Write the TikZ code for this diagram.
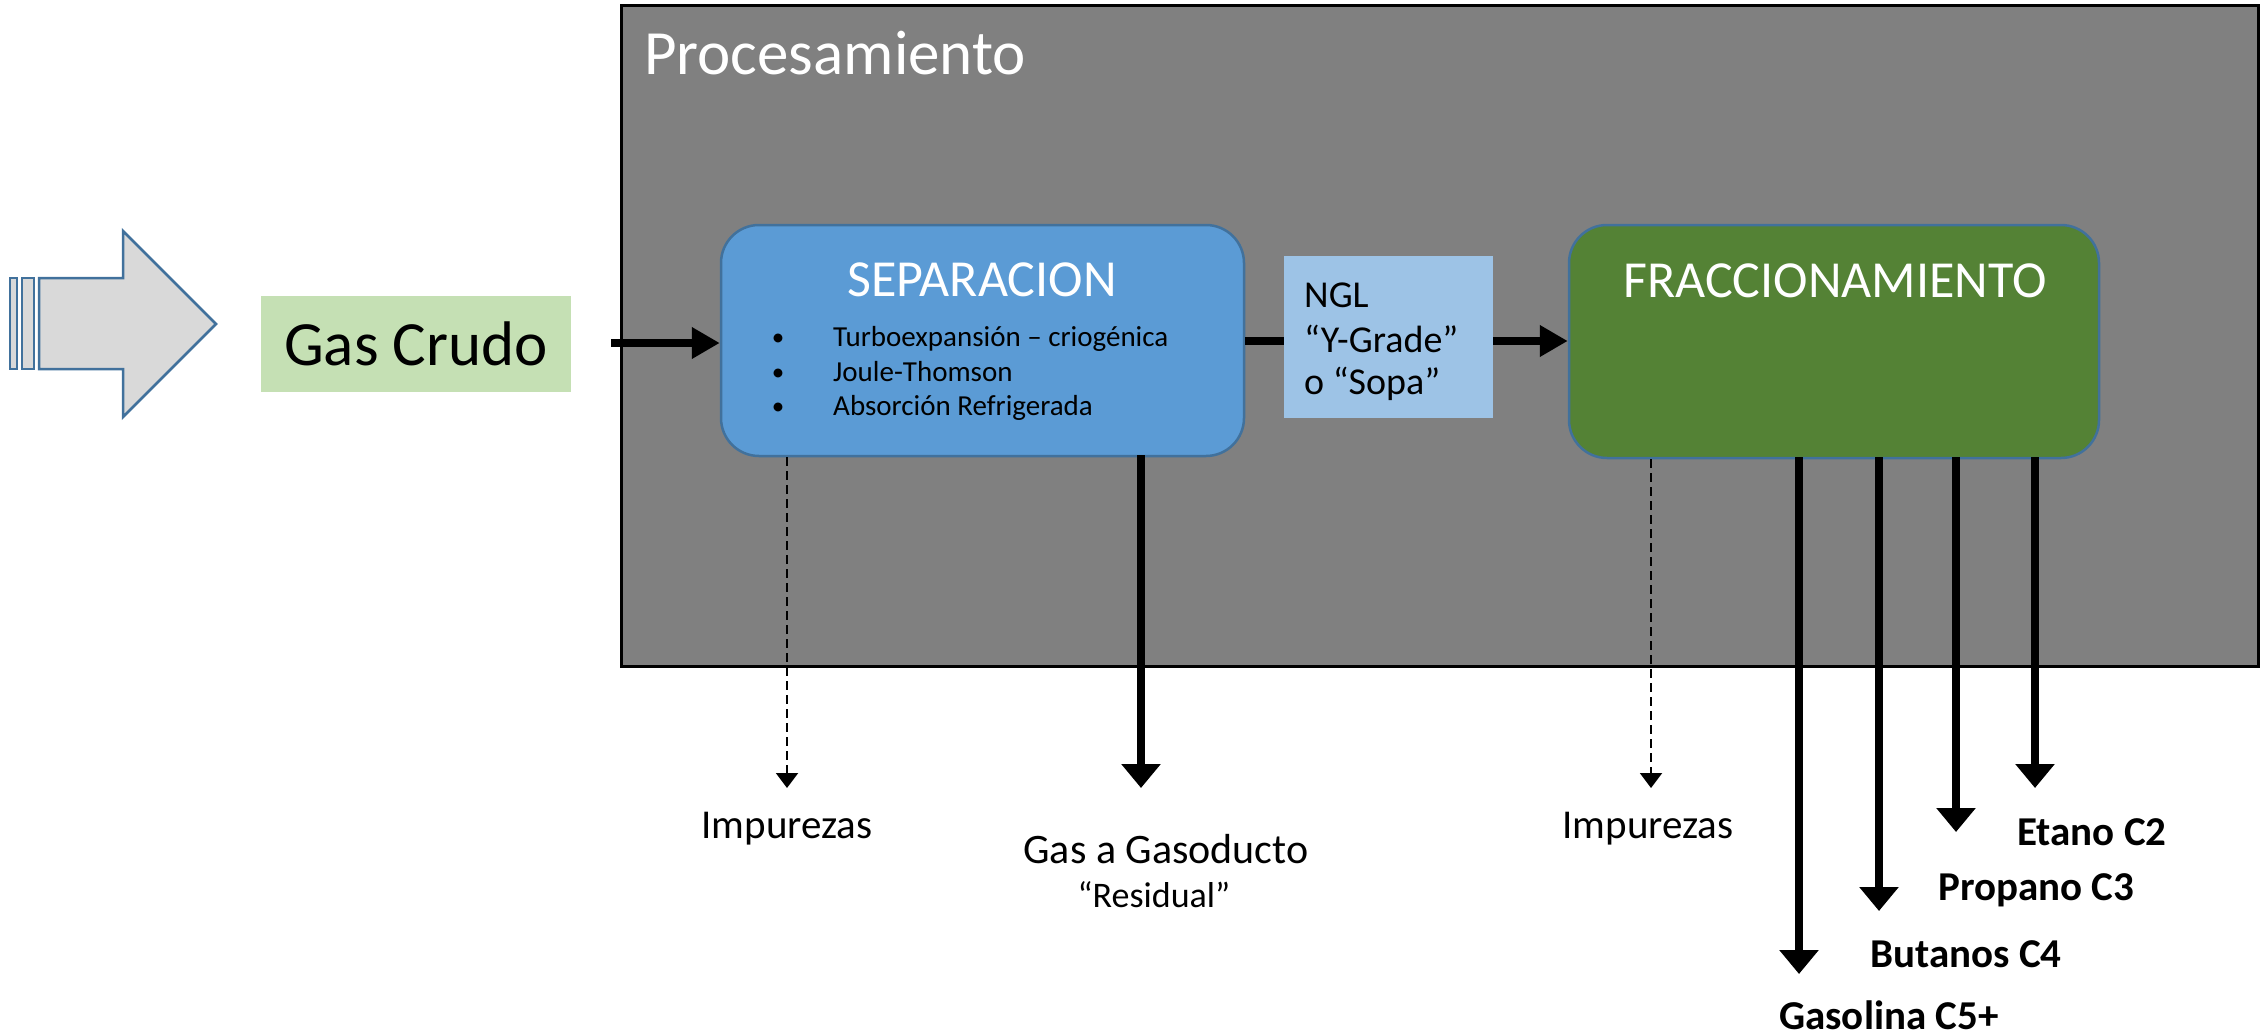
\documentclass[tikz,border=0pt]{standalone}
\usepackage{fontspec}
\setmainfont{Carlito}
\usetikzlibrary{arrows.meta}
\definecolor{procgray}{HTML}{808080}
\definecolor{sepblue}{HTML}{5B9BD5}
\definecolor{edgeblue}{HTML}{41719C}
\definecolor{nglblue}{HTML}{9DC3E6}
\definecolor{fracgreen}{HTML}{548235}
\definecolor{gcgreen}{HTML}{C5E0B4}
\definecolor{arrowgray}{HTML}{D9D9D9}
\newcommand\fsz[1]{\fontsize{#1}{#1}\selectfont}
\tikzset{
  procbox/.style={draw=black, line width=3pt, fill=procgray, inner sep=0pt},
  sepbox/.style={draw=edgeblue, line width=2.5pt, fill=sepblue, rounded corners=38pt, inner sep=0pt},
  fracbox/.style={draw=edgeblue, line width=2.5pt, fill=fracgreen, rounded corners=38pt, inner sep=0pt},
  nglbox/.style={fill=nglblue, inner sep=0pt},
  gcbox/.style={fill=gcgreen, inner sep=0pt, font=\fsz{63}},
  titletext/.style={text=white, inner sep=0pt, font=\fsz{52}},
  itemtext/.style={inner sep=0pt, font=\fsz{29}},
  bullettext/.style={inner sep=0pt, font=\fsz{25}},
  ngltext/.style={inner sep=0pt, font=\fsz{38}},
  outtext/.style={inner sep=0pt, font=\fsz{41}},
  prodtext/.style={inner sep=0pt, font=\fsz{41}\bfseries},
  harrow/.style={line width=8pt, -{Triangle[length=28pt,width=30pt]}},
  hline/.style={line width=8pt},
  varrow/.style={line width=8pt, -{Triangle[length=24pt,width=38pt]}},
  dasharrow/.style={line width=2pt, dash pattern=on 9pt off 5pt, -{Triangle[length=15pt,width=22pt]}},
}
\begin{document}
\begin{tikzpicture}[x=1pt,y=-1pt]
\useasboundingbox (0,0) rectangle (2261,1035);
% striped input arrow
\draw[edgeblue, line width=2.5pt, fill=arrowgray] (10,278) rectangle (17,369);
\draw[edgeblue, line width=2.5pt, fill=arrowgray] (22,278) rectangle (34,369);
\draw[edgeblue, line width=2.5pt, fill=arrowgray, line join=miter]
  (39,278) -- (123,278) -- (123,231) -- (216,324) -- (123,417) -- (123,369) -- (39,369) -- cycle;
% Gas Crudo
\node[gcbox, minimum width=310pt, minimum height=96pt] (gas) at (416,344) {Gas Crudo};
% Procesamiento container
\node[procbox, minimum width=1637pt, minimum height=660pt] (proc) at (1439.5,336) {};
\node[inner sep=0pt, anchor=base west, text=white, font=\fsz{63}] (proctitle) at (644,75) {Procesamiento};
% SEPARACION
\node[sepbox, minimum width=523pt, minimum height=231pt] (sep) at (982.5,340.5) {};
\node[titletext, anchor=base] (septitle) at (982,296) {SEPARACION};
\node[bullettext, anchor=base] (b1) at (778,345) {•};
\node[bullettext, anchor=base] (b2) at (778,380) {•};
\node[bullettext, anchor=base] (b3) at (778,414) {•};
\node[itemtext, anchor=base west] (i1) at (833,346) {Turboexpansión – criogénica};
\node[itemtext, anchor=base west] (i2) at (833,381) {Joule-Thomson};
\node[itemtext, anchor=base west] (i3) at (833,415) {Absorción Refrigerada};
% FRACCIONAMIENTO
\node[fracbox, minimum width=530pt, minimum height=233pt] (frac) at (1834,341.5) {};
\node[titletext, anchor=base] (fractitle) at (1835,297) {FRACCIONAMIENTO};
% NGL
\node[nglbox, minimum width=209pt, minimum height=162pt] (ngl) at (1388.5,337) {};
\node[ngltext, anchor=base west] (n1) at (1304,307) {NGL};
\node[ngltext, anchor=base west] (n2) at (1304,352) {“Y-Grade”};
\node[ngltext, anchor=base west] (n3) at (1304,394) {o “Sopa”};
% horizontal connectors
\coordinate (inStart) at (611,343);
\draw[harrow] (inStart) -- (inStart -| sep.west);
\draw[hline] (sep.east |- 0,341) -- (ngl.west |- 0,341);
\draw[harrow] (ngl.east |- 0,341) -- (frac.west |- 0,341);
% outputs of SEPARACION
\coordinate (imp1) at (787,788);
\coordinate (gasod) at (1141,788);
\draw[dasharrow] (sep.south -| imp1) -- (imp1);
\draw[varrow] ([yshift=2pt]sep.south -| gasod) -- (gasod);
\node[outtext, anchor=base] (imp1t) at (787,838) {Impurezas};
\node[inner sep=0pt, anchor=base, font=\fsz{42}] (gasodt) at (1166,863) {Gas a Gasoducto};
\node[inner sep=0pt, anchor=base, font=\fsz{36}] (resid) at (1154,907) {“Residual”};
% outputs of FRACCIONAMIENTO
\coordinate (imp2) at (1651,788);
\draw[dasharrow] (frac.south -| imp2) -- (imp2);
\node[outtext, anchor=base] (imp2t) at (1648,838) {Impurezas};
\coordinate (c5) at (1799,974);
\coordinate (c4) at (1879,911);
\coordinate (c3) at (1956,832);
\coordinate (c2) at (2035,788);
\draw[varrow] ([yshift=2pt]frac.south -| c5) -- (c5);
\draw[varrow] ([yshift=2pt]frac.south -| c4) -- (c4);
\draw[varrow] ([yshift=2pt]frac.south -| c3) -- (c3);
\draw[varrow] ([yshift=2pt]frac.south -| c2) -- (c2);
\node[prodtext, anchor=base west] (c2t) at (2017,845) {Etano C2};
\node[prodtext, anchor=base west] (c3t) at (1938,900) {Propano C3};
\node[prodtext, anchor=base west] (c4t) at (1870,967) {Butanos C4};
\node[prodtext, anchor=base west] (c5t) at (1779,1029) {Gasolina C5+};
\end{tikzpicture}
\end{document}
